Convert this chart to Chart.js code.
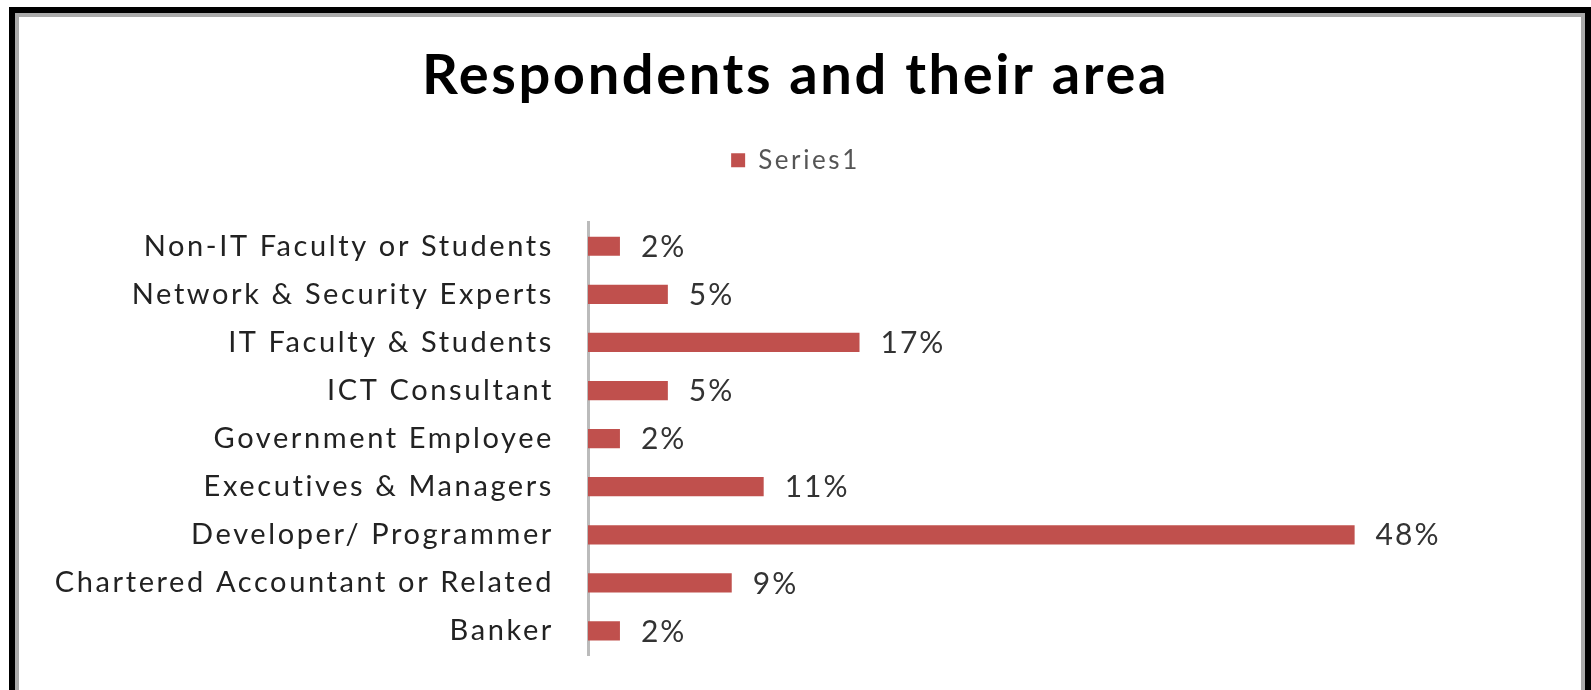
<!DOCTYPE html>
<html lang="en">
<head>
    <meta charset="UTF-8">
    <title>Respondents and their area</title>
    <script src="https://cdn.jsdelivr.net/npm/chart.js"></script>
    <style>
        html, body { margin: 0; padding: 0; background: #fff; overflow: hidden; }
        #wrap { position: relative; width: 1591px; height: 690px; }
        #frame {
            position: absolute; left: 9px; top: 7px; width: 1570px; height: 700px;
            border: 6px solid #000; border-bottom: none;
            box-shadow: inset 4px 4px 0 #aaa, inset -4px 0 0 #aaa;
            pointer-events: none;
        }
        canvas { position: absolute; left: 0; top: 0; }
    </style>
</head>
<body>
<div id="wrap">
    <canvas id="areaChart" width="1591" height="690"></canvas>
    <div id="frame"></div>
</div>

<script>
    const categories = [
        "Non-IT Faculty or Students",
        "Network & Security Experts",
        "IT Faculty & Students",
        "ICT Consultant",
        "Government Employee",
        "Executives & Managers",
        "Developer/ Programmer",
        "Chartered Accountant or Related",
        "Banker"
    ];
    const percentages = [2, 5, 17, 5, 2, 11, 48, 9, 2];
    const seriesName = "Series1";

    const barColor = "#C0504D";
    const fontFamily = "Lato, 'Open Sans', sans-serif";

    // wider tracking for all chart text
    const tracking = {
        id: 'tracking',
        beforeUpdate(chart) { chart.ctx.letterSpacing = '2.6px'; },
        beforeDraw(chart) { chart.ctx.letterSpacing = '2.6px'; }
    };

    // value labels at the end of each bar
    const barLabels = {
        id: 'barLabels',
        afterDatasetsDraw(chart) {
            const ctx = chart.ctx;
            const meta = chart.getDatasetMeta(0);
            ctx.save();
            ctx.letterSpacing = '2px';
            ctx.font = `30px ${fontFamily}`;
            ctx.fillStyle = '#333';
            ctx.textAlign = 'left';
            ctx.textBaseline = 'middle';
            meta.data.forEach((bar, i) => {
                ctx.fillText(percentages[i] + '%', bar.x + 21, bar.y + 1);
            });
            ctx.restore();
        }
    };

    // extra space between the legend and the bars
    const legendGap = {
        id: 'legendGap',
        beforeInit(chart) {
            const fit = chart.legend.fit;
            chart.legend.fit = function () {
                fit.call(this);
                this.height += 39;
            };
        }
    };

    const chart = new Chart(document.getElementById("areaChart"), {
        type: 'bar',
        data: {
            labels: categories,
            datasets: [{
                label: seriesName,
                data: percentages,
                backgroundColor: barColor,
                borderWidth: 0,
                categoryPercentage: 1,
                barPercentage: 0.4
            }]
        },
        plugins: [tracking, barLabels, legendGap],
        options: {
            indexAxis: 'y',
            responsive: false,
            animation: false,
            layout: { padding: { left: 0, right: 0, top: 0, bottom: 35 } },
            plugins: {
                title: {
                    display: true,
                    text: 'Respondents and their area',
                    color: '#000',
                    font: { family: fontFamily, size: 56, weight: 'bold' },
                    padding: { top: 42, bottom: 16 }
                },
                legend: {
                    display: true,
                    position: 'top',
                    labels: {
                        color: '#555',
                        font: { family: fontFamily, size: 26 },
                        boxWidth: 14,
                        boxHeight: 14,
                        padding: 22
                    }
                },
                tooltip: { enabled: false }
            },
            scales: {
                x: {
                    display: false,
                    min: 0,
                    max: 62.8
                },
                y: {
                    afterFit: (scale) => {
                        scale.width = 588;
                        scale.paddingTop = 0;
                        scale.paddingBottom = 0;
                    },
                    grid: { display: false, drawTicks: false },
                    border: { display: true, color: '#bbb', width: 3 },
                    ticks: {
                        color: '#222',
                        padding: 34,
                        font: { family: fontFamily, size: 29 }
                    }
                }
            }
        }
    });
</script>
</body>
</html>
